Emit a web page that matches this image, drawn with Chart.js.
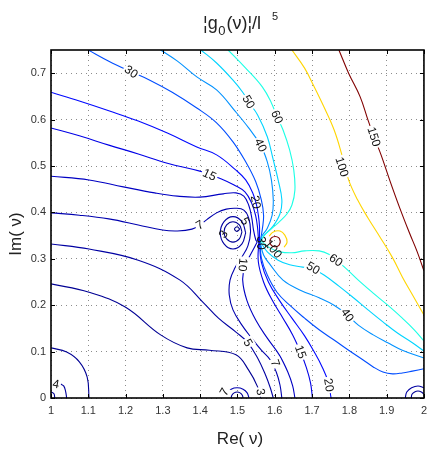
<!DOCTYPE html>
<html>
<head>
<meta charset="utf-8">
<script src="https://cdn.jsdelivr.net/npm/chart.js@4.4.1/dist/chart.umd.min.js"></script>
<style>
  html, body { margin: 0; padding: 0; background: #fff; }
  #wrap { width: 433px; height: 454px; }
</style>
</head>
<body>
<div id="wrap"><canvas id="c" width="433" height="454"></canvas></div>
<script>
// Axis ticks
const xTicks = [1, 1.1, 1.2, 1.3, 1.4, 1.5, 1.6, 1.7, 1.8, 1.9, 2];
const yTicks = [0, 0.1, 0.2, 0.3, 0.4, 0.5, 0.6, 0.7];

// Contour polylines, [Re(nu), Im(nu)] pairs
const lv150 = [[1.772,0.750],[1.798,0.700],[1.829,0.649],[1.850,0.599],[1.866,0.563],[1.885,0.524],[1.908,0.470],[1.934,0.412],[1.961,0.356],[1.982,0.315],[2.000,0.274]];
const lv150Ring = [[1.615,0.337],[1.611,0.345],[1.601,0.348],[1.591,0.345],[1.587,0.337],[1.591,0.329],[1.601,0.326],[1.611,0.329],[1.615,0.337]];
const lv100 = [[1.646,0.750],[1.680,0.711],[1.703,0.675],[1.732,0.627],[1.759,0.578],[1.780,0.524],[1.798,0.470],[1.822,0.427],[1.850,0.388],[1.882,0.347],[1.916,0.302],[1.942,0.261],[1.971,0.220],[2.000,0.179]];
const lv100Arc = [[1.585,0.349],[1.596,0.358],[1.614,0.360],[1.627,0.351],[1.633,0.336],[1.625,0.325]];
const lv60Upper = [[1.475,0.750],[1.522,0.711],[1.567,0.670],[1.591,0.636],[1.606,0.606],[1.622,0.578],[1.640,0.534],[1.651,0.491],[1.654,0.448],[1.646,0.416],[1.633,0.397],[1.614,0.381],[1.593,0.366],[1.570,0.349],[1.564,0.338]];
const lv60Lower = [[1.564,0.338],[1.588,0.323],[1.614,0.315],[1.646,0.313],[1.680,0.317],[1.719,0.317],[1.745,0.310],[1.764,0.297],[1.790,0.280],[1.824,0.254],[1.864,0.226],[1.903,0.200],[1.942,0.172],[1.974,0.147],[2.000,0.123]];
const lv50Upper = [[1.402,0.750],[1.444,0.722],[1.488,0.685],[1.514,0.659],[1.530,0.638],[1.554,0.610],[1.580,0.563],[1.596,0.513],[1.609,0.470],[1.619,0.427],[1.614,0.397],[1.596,0.371],[1.570,0.349],[1.562,0.336]];
const lv50Lower = [[1.562,0.336],[1.580,0.315],[1.609,0.297],[1.640,0.287],[1.675,0.282],[1.706,0.276],[1.732,0.265],[1.772,0.241],[1.811,0.216],[1.850,0.190],[1.890,0.164],[1.929,0.140],[1.969,0.119],[2.000,0.101]];
const lv40Upper = [[1.294,0.750],[1.339,0.726],[1.391,0.692],[1.444,0.664],[1.496,0.616],[1.530,0.582],[1.562,0.545],[1.580,0.509],[1.591,0.470],[1.596,0.427],[1.593,0.394],[1.580,0.366],[1.564,0.347],[1.561,0.336]];
const lv40Lower = [[1.561,0.336],[1.570,0.308],[1.588,0.287],[1.622,0.254],[1.667,0.233],[1.719,0.216],[1.759,0.200],[1.795,0.179],[1.824,0.157],[1.864,0.136],[1.903,0.119],[1.942,0.103],[2.000,0.086]];
const lv30Upper = [[1.100,0.750],[1.155,0.726],[1.215,0.703],[1.265,0.685],[1.325,0.659],[1.391,0.625],[1.444,0.593],[1.488,0.552],[1.522,0.509],[1.549,0.466],[1.564,0.427],[1.570,0.394],[1.567,0.366],[1.561,0.336]];
const lv30Lower = [[1.561,0.336],[1.564,0.302],[1.580,0.265],[1.606,0.228],[1.640,0.200],[1.680,0.172],[1.719,0.147],[1.759,0.125],[1.798,0.103],[1.837,0.082],[1.864,0.067],[1.890,0.056],[1.916,0.052],[1.942,0.054],[1.969,0.058],[2.000,0.063]];
const lv20Upper = [[1.000,0.659],[1.076,0.640],[1.155,0.619],[1.234,0.597],[1.312,0.571],[1.391,0.541],[1.444,0.524],[1.496,0.491],[1.522,0.470],[1.541,0.442],[1.551,0.416],[1.556,0.394],[1.559,0.371],[1.559,0.345],[1.559,0.336]];
const lv20Lower = [[1.559,0.336],[1.564,0.293],[1.583,0.250],[1.612,0.211],[1.646,0.172],[1.680,0.134],[1.706,0.099],[1.727,0.067],[1.743,0.035],[1.751,0.000]];
const lv15Upper = [[1.000,0.582],[1.076,0.565],[1.155,0.545],[1.234,0.526],[1.312,0.506],[1.399,0.489],[1.425,0.481],[1.457,0.472],[1.491,0.459],[1.520,0.444],[1.538,0.420],[1.549,0.392],[1.554,0.366],[1.556,0.345],[1.557,0.336]];
const lv15Lower = [[1.557,0.336],[1.556,0.293],[1.570,0.250],[1.593,0.211],[1.622,0.172],[1.648,0.136],[1.669,0.099],[1.685,0.065],[1.696,0.032],[1.701,0.000]];
const lv10Upper = [[1.000,0.478],[1.102,0.470],[1.194,0.455],[1.278,0.442],[1.339,0.435],[1.399,0.433],[1.462,0.440],[1.496,0.442],[1.517,0.435],[1.530,0.416],[1.538,0.390],[1.543,0.362],[1.549,0.341],[1.553,0.336]];
const lv10Lower = [[1.553,0.336],[1.533,0.306],[1.520,0.284],[1.514,0.254],[1.525,0.211],[1.549,0.168],[1.580,0.129],[1.612,0.093],[1.635,0.056],[1.648,0.026],[1.654,0.000]];
const lv7 = [[1.000,0.399],[1.076,0.394],[1.155,0.386],[1.234,0.373],[1.299,0.362],[1.339,0.360],[1.378,0.364],[1.399,0.373],[1.417,0.384],[1.444,0.399],[1.470,0.407],[1.496,0.409],[1.517,0.405],[1.530,0.388],[1.535,0.358],[1.528,0.328],[1.512,0.304],[1.493,0.280],[1.480,0.254],[1.478,0.222],[1.488,0.190],[1.512,0.157],[1.538,0.129],[1.564,0.103],[1.588,0.082],[1.604,0.056],[1.614,0.028],[1.619,0.000]];
const lv5 = [[1.000,0.332],[1.102,0.321],[1.234,0.297],[1.346,0.254],[1.409,0.205],[1.449,0.172],[1.496,0.142],[1.528,0.119],[1.554,0.086],[1.575,0.050],[1.588,0.022],[1.596,0.000]];
const lv5Loop = [[1.522,0.356],[1.512,0.380],[1.488,0.391],[1.464,0.380],[1.454,0.356],[1.464,0.332],[1.488,0.321],[1.512,0.332],[1.522,0.356]];
const lv3 = [[1.000,0.246],[1.102,0.228],[1.199,0.196],[1.294,0.136],[1.365,0.108],[1.425,0.103],[1.496,0.093],[1.530,0.060],[1.554,0.024],[1.562,0.000]];
const lv3Loop = [[1.512,0.358],[1.505,0.373],[1.488,0.380],[1.471,0.373],[1.464,0.358],[1.471,0.343],[1.488,0.336],[1.505,0.343],[1.512,0.358]];
const lv1Dot = [[1.506,0.364],[1.499,0.369],[1.492,0.364],[1.499,0.359],[1.506,0.364]];
const bottomOuter = [[1.468,0.000],[1.472,0.011],[1.483,0.019],[1.499,0.022],[1.515,0.019],[1.526,0.011],[1.531,0.000]];
const bottomInner = [[1.483,0.000],[1.485,0.006],[1.491,0.011],[1.499,0.013],[1.507,0.011],[1.513,0.006],[1.515,0.000]];
const cornerOuter = [[1.950,0.000],[1.954,0.013],[1.967,0.022],[1.984,0.026],[2.001,0.022]];
const cornerInner = [[1.966,0.000],[1.968,0.008],[1.975,0.013],[1.984,0.015],[1.993,0.013],[2.000,0.008]];
const originArc = [[1.000,0.108],[1.042,0.099],[1.076,0.078],[1.097,0.045],[1.102,0.000]];
const originMid = [[1.026,0.030],[1.034,0.026],[1.039,0.015],[1.042,0.000]];
const originTiny = [[1.000,0.013],[1.008,0.009],[1.010,0.000]];

const contours = [
  { level: 150, pts: lv150 }, { level: 150, pts: lv150Ring },
  { level: 100, pts: lv100 }, { level: 100, pts: lv100Arc },
  { level: 60, pts: lv60Upper }, { level: 60, pts: lv60Lower },
  { level: 50, pts: lv50Upper }, { level: 50, pts: lv50Lower },
  { level: 40, pts: lv40Upper }, { level: 40, pts: lv40Lower },
  { level: 30, pts: lv30Upper }, { level: 30, pts: lv30Lower },
  { level: 20, pts: lv20Upper }, { level: 20, pts: lv20Lower },
  { level: 15, pts: lv15Upper }, { level: 15, pts: lv15Lower },
  { level: 10, pts: lv10Upper }, { level: 10, pts: lv10Lower },
  { level: 7, pts: lv7 }, { level: 5, pts: lv5 }, { level: 5, pts: lv5Loop },
  { level: 3, pts: lv3 }, { level: 3, pts: lv3Loop }, { level: 1, pts: lv1Dot },
  { level: 7, pts: bottomOuter }, { level: 3, pts: bottomInner },
  { level: 5, pts: cornerOuter }, { level: 3, pts: cornerInner },
  { level: 3, pts: originArc }, { level: 4, pts: originMid }, { level: 3, pts: originTiny }
];

// Inline contour labels: text, Re, Im, angle (deg), white backing
const labelText = ['30','15','50','60','40','20','100','150','7','3','5','10','30','100','50','60','40','15','20','5','7','3','7','4'];
const labelRe   = [1.215,1.425,1.530,1.606,1.562,1.549,1.780,1.866,1.399,1.462,1.520,1.514,1.562,1.596,1.703,1.764,1.795,1.669,1.745,1.528,1.601,1.562,1.465,1.013];
const labelIm   = [0.703,0.481,0.638,0.606,0.545,0.422,0.498,0.563,0.373,0.353,0.381,0.287,0.334,0.321,0.280,0.297,0.179,0.099,0.028,0.119,0.075,0.013,0.013,0.030];
const labelRot  = [35,25,60,65,65,80,72,72,-30,-60,60,95,90,50,30,35,55,70,80,60,70,80,-60,10];
const labelBack = [1,1,1,1,1,0,1,1,1,0,0,1,0,0,1,1,1,1,1,1,1,1,1,1];

// MATLAB-like jet colour for a contour level (colour limits 0..150)
function jet(level) {
  const t = Math.min(1, Math.max(0, level / 150));
  const f = v => Math.round(255 * Math.min(1, Math.max(0, 1.5 - Math.abs(4 * t - v))));
  return `rgb(${f(3)},${f(2)},${f(1)})`;
}
const fmt = v => String(Math.round(v * 10) / 10);
const FONT = 'Liberation Sans, Arial, Helvetica, sans-serif';

const decor = {
  id: 'decor',
  afterDatasetsDraw(chart) {
    const { ctx, chartArea: a, scales: { x, y } } = chart;
    ctx.save();
    // contour labels
    ctx.font = `12px ${FONT}`;
    ctx.textAlign = 'center';
    ctx.textBaseline = 'middle';
    for (let i = 0; i < labelText.length; i++) {
      const px = x.getPixelForValue(labelRe[i]);
      const py = y.getPixelForValue(labelIm[i]);
      ctx.save();
      ctx.translate(px, py);
      ctx.rotate(labelRot[i] * Math.PI / 180);
      if (labelBack[i]) {
        const w = ctx.measureText(labelText[i]).width + 3;
        ctx.fillStyle = '#fff';
        ctx.fillRect(-w / 2, -6.5, w, 13);
      }
      ctx.fillStyle = '#111';
      ctx.fillText(labelText[i], 0, 0.5);
      ctx.restore();
    }
    // inner tick marks
    ctx.strokeStyle = '#000';
    ctx.lineWidth = 1;
    ctx.beginPath();
    xTicks.forEach(v => {
      const px = Math.round(x.getPixelForValue(v)) + 0.5;
      ctx.moveTo(px, a.bottom); ctx.lineTo(px, a.bottom - 4);
      ctx.moveTo(px, a.top); ctx.lineTo(px, a.top + 4);
    });
    yTicks.forEach(v => {
      const py = Math.round(y.getPixelForValue(v)) + 0.5;
      ctx.moveTo(a.left, py); ctx.lineTo(a.left + 4, py);
      ctx.moveTo(a.right, py); ctx.lineTo(a.right - 4, py);
    });
    ctx.stroke();
    // axes box
    ctx.lineWidth = 1.6;
    ctx.strokeRect(a.left, a.top, a.right - a.left, a.bottom - a.top);
    ctx.restore();
  },
  afterDraw(chart) {
    const { ctx } = chart;
    ctx.save();
    ctx.fillStyle = '#222';
    ctx.textBaseline = 'alphabetic';
    // title: |g_0(nu)|/lambda^5
    let cx = 203;
    ctx.font = `18px ${FONT}`;
    ctx.textAlign = 'left';
    ctx.fillText('¦g', cx, 29); cx += ctx.measureText('¦g').width + 0.5;
    ctx.font = `13px ${FONT}`;
    ctx.fillText('0', cx, 35); cx += ctx.measureText('0').width + 1;
    ctx.font = `18px ${FONT}`;
    ctx.fillText('(ν)¦/l', cx, 29);
    ctx.font = `11px ${FONT}`;
    ctx.fillText('5', 272, 20);
    // axis titles
    ctx.font = `17px ${FONT}`;
    ctx.textAlign = 'center';
    ctx.fillText('Re( ν)', 240, 444);
    ctx.translate(21, 234);
    ctx.rotate(-Math.PI / 2);
    ctx.fillText('Im( ν)', 0, 0);
    ctx.restore();
  }
};

new Chart(document.getElementById('c'), {
  type: 'scatter',
  data: {
    datasets: contours.map(c => ({
      data: c.pts.map(p => ({ x: p[0], y: p[1] })),
      showLine: true,
      borderColor: jet(c.level),
      borderWidth: 1.1,
      pointRadius: 0,
      tension: 0.4,
      fill: false
    }))
  },
  options: {
    responsive: false,
    animation: false,
    devicePixelRatio: 1,
    layout: { padding: { left: 0, top: 50, right: 1, bottom: 0 } },
    plugins: { legend: { display: false }, tooltip: { enabled: false }, title: { display: false } },
    scales: {
      x: {
        type: 'linear', min: 1, max: 2,
        afterBuildTicks: s => { s.ticks = xTicks.map(v => ({ value: v })); },
        afterFit: s => { s.height = 56; },
        ticks: { autoSkip: false, maxRotation: 0, padding: 6, color: '#333', font: { family: FONT, size: 11 }, callback: v => fmt(v) },
        grid: { color: 'rgba(0,0,0,0.45)', lineWidth: 1, drawTicks: false },
        border: { display: false, dash: [1, 4] }
      },
      y: {
        type: 'linear', min: 0, max: 0.75,
        afterBuildTicks: s => { s.ticks = yTicks.map(v => ({ value: v })); },
        afterFit: s => { s.width = 51; },
        ticks: { autoSkip: false, padding: 5, color: '#333', font: { family: FONT, size: 11 }, callback: v => fmt(v) },
        grid: { color: 'rgba(0,0,0,0.45)', lineWidth: 1, drawTicks: false },
        border: { display: false, dash: [1, 4] }
      }
    }
  },
  plugins: [decor]
});
</script>
</body>
</html>
